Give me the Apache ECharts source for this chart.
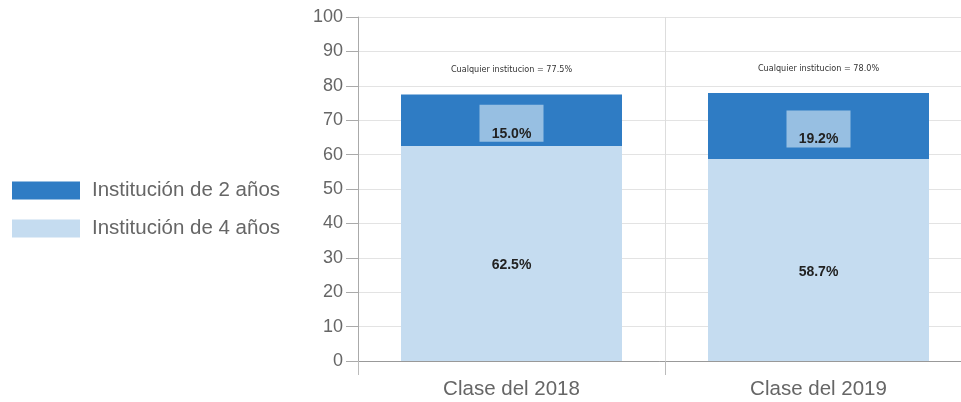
<!DOCTYPE html>
<html><head><meta charset="utf-8">
<script src="https://cdn.jsdelivr.net/npm/echarts@6/dist/echarts.min.js"></script>
<style>html,body{margin:0;padding:0;background:#fff}#c{width:961px;height:402px}</style>
</head><body><div id="c"></div>
<script>
const categories = ['Clase del 2018', 'Clase del 2019'];
const fourYear = [62.5, 58.7];
const twoYear = [15.0, 19.2];
const totalLabels = ['Cualquier institucion = 77.5%', 'Cualquier institucion = 78.0%'];
const yTicks = [0, 10, 20, 30, 40, 50, 60, 70, 80, 90, 100];

const FONT = '"Liberation Sans", Arial, sans-serif';
const chart = echarts.init(document.getElementById('c'), null, {renderer: 'canvas'});
chart.setOption({
  animation: false,
  legend: {
    data: ['Institución de 2 años', 'Institución de 4 años'],
    orient: 'vertical', left: 7, top: 175, icon: 'rect',
    itemWidth: 68, itemHeight: 18, itemGap: 17,
    textStyle: {fontSize: 20.5, lineHeight: 21, color: '#666', fontFamily: FONT, padding: [0,0,0,7]}
  },
  grid: {left: 358, width: 614, top: 17, bottom: 41, containLabel: false, outerBoundsMode: 'none'},
  xAxis: {
    type: 'category', data: categories,
    axisLine: {lineStyle: {color: '#999'}},
    axisTick: {show: true, length: 14, lineStyle: {color: '#bbb'}},
    splitLine: {show: true, lineStyle: {color: '#ddd'}},
    axisLabel: {fontSize: 20.5, color: '#666', margin: 18, fontFamily: FONT}
  },
  yAxis: {
    type: 'value', min: yTicks[0], max: yTicks[yTicks.length - 1], interval: 10,
    axisLine: {show: true, lineStyle: {color: '#aaa'}},
    axisTick: {show: true, length: 12, lineStyle: {color: '#aaa'}},
    splitLine: {lineStyle: {color: '#e3e3e3'}},
    axisLabel: {fontSize: 18, color: '#666', margin: 15, fontFamily: FONT}
  },
  series: [
    {
      name: 'Institución de 4 años', type: 'bar', stack: 't', barWidth: 221,
      data: fourYear,
      itemStyle: {color: '#c5dcf0'},
      label: {show: true, position: 'inside', offset: [0, 12], formatter: p => p.value.toFixed(1) + '%',
        fontSize: 14, fontWeight: 'bold', color: '#222', fontFamily: FONT}
    },
    {
      name: 'Institución de 2 años', type: 'bar', stack: 't', barWidth: 221,
      data: twoYear,
      itemStyle: {color: '#2f7cc4'},
      label: {show: true, position: 'inside', offset: [0, 3], formatter: p => '{b|' + p.value.toFixed(1) + '%}',
        rich: {b: {fontSize: 14, fontWeight: 'bold', color: '#222', fontFamily: FONT,
          backgroundColor: '#97bfe2', width: 48, align: 'center', padding: [22, 8, 1, 8]}}}
    },
    {
      name: 'total', type: 'bar', stack: 't', barWidth: 221,
      data: categories.map(() => 0),
      itemStyle: {color: 'transparent'},
      label: {show: true, position: 'top', distance: 20,
        formatter: p => totalLabels[p.dataIndex],
        fontSize: 9, color: '#333', fontFamily: '"Liberation Sans Narrow", "DejaVu Sans Condensed", sans-serif'}
    }
  ]
});
</script></body></html>
